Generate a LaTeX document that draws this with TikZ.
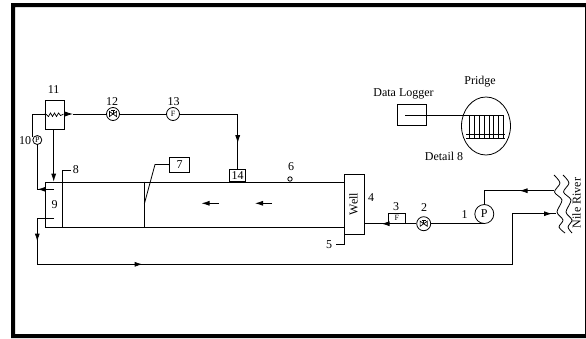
\documentclass[tikz,border=0pt]{standalone}
\usepackage{fontspec}
\setmainfont{Liberation Serif}
\usetikzlibrary{arrows.meta,decorations.markings,shapes.geometric}
\tikzset{
  pipe/.style={draw=black,line width=0.8pt},
  head/.tip={Latex[length=8pt,width=5pt]},
  mark at/.style={postaction={decorate,decoration={markings,mark=at position #1 with {\arrow{head}}}}},
  lbl/.style={inner sep=0pt,font=\fontsize{12}{13}\selectfont},
  tiny lbl/.style={inner sep=0pt,font=\fontsize{8}{9}\selectfont},
  boxed/.style={draw=black,line width=0.8pt,minimum width=#1,inner sep=0pt},
  ring/.style={draw=black,fill=white,circle,line width=0.8pt,inner sep=0pt,minimum size=#1},
}
\newcommand{\valvemark}[1]{%
  \draw[line width=0.7pt] ([shift={(-3.6pt,-2.6pt)}]#1.center) -- ([shift={(3.6pt,2.6pt)}]#1.center) -- ([shift={(3.6pt,-2.6pt)}]#1.center) -- ([shift={(-3.6pt,2.6pt)}]#1.center) -- cycle;
  \draw[line width=0.7pt] (#1.center) -- ([shift={(0pt,3.8pt)}]#1.center) ([shift={(-2pt,3.8pt)}]#1.center) -- ([shift={(2pt,3.8pt)}]#1.center);
}
\begin{document}
\begin{tikzpicture}[x=1pt,y=-1pt]
\useasboundingbox (0,0) rectangle (586,338);
% frame
\fill[black,even odd rule] (11,3) rectangle (586,338) (15,7) rectangle (585,334);

% tank
\node[draw=black,line width=0.8pt,minimum width=299.5pt,minimum height=45.3pt,inner sep=0pt,anchor=north west] (tank) at (45,181.7) {};
\node[draw=black,fill=white,line width=0.8pt,minimum width=20pt,minimum height=59.7pt,inner sep=0pt,anchor=north west] (well) at (344.3,174.3) {};
\node[lbl,rotate=90] (welltxt) at (353.5,204) {Well};
\coordinate (s8b) at (62,227);
\coordinate (s8t) at (62,170.3);
\coordinate (s8e) at (71,170.3);
\draw[pipe] (s8b) -- (s8t) -- (s8e);
\node[lbl] (n8) at (75.8,170) {8};
\node[lbl] (n9) at (54.5,204.5) {9};
\coordinate (s7t) at (144.3,181.7);
\coordinate (s7b) at (144.3,227);
\coordinate (s7m) at (144.3,204);
\coordinate (s7k) at (155,164.5);
\draw[pipe] (s7t) -- (s7b);
\node[boxed=19.7pt,minimum height=14.7pt,anchor=west] (b7) at (169.3,164.6) {};
\node[lbl] at (b7) {7};
\draw[pipe] (s7m) -- (s7k) -- (b7.west);

% flow arrows in tank
\coordinate (fa1) at (219,203.3); \coordinate (fa2) at (201.5,203.3);
\coordinate (fb1) at (272,203.3); \coordinate (fb2) at (255,203.3);
\draw[pipe,-head] (fa1) -- (fa2);
\draw[pipe,-head] (fb1) -- (fb2);

% item 14, 6
\node[boxed=16.4pt,minimum height=12pt,anchor=south] (b14) at (237.5,181.7) {};
\node[lbl] at (b14) {14};
\node[ring=4.4pt] (c6) at (290,179) {};
\node[lbl] (n6) at (291,167) {6};

% heat exchanger 11
\node[boxed=19pt,minimum height=29.3pt,anchor=north west] (hx) at (44.5,100) {};
\node[lbl] (n11) at (53.7,90) {11};
\draw[line width=0.7pt] plot[smooth] coordinates {(44.5,114) (46.5,114.5) (48.5,116.5) (50.5,113) (52.5,116.5) (54.5,113) (56.5,116.5) (58.5,113) (60.5,115.5) (63.5,114)};

% top line
\node[ring=13pt] (v12) at (113,114) {};
\node[lbl] (n12) at (112,102) {12};
\node[ring=13pt] (f13) at (173,114) {};
\node[tiny lbl] at (f13) {F};
\node[lbl] (n13) at (173.5,102) {13};
\coordinate (t14) at (237.7,114);
\coordinate (hxo) at (63.5,114);
\coordinate (hxa) at (73,114);
\draw[pipe,-head] (hxo) -- (hxa);
\draw[pipe] (hxa) -- (v12.west);
\draw[pipe] (v12.east) -- (f13.west);
\draw[pipe,mark at=87pt] (f13.east) -- (t14) -- (t14 |- b14.north);
\valvemark{v12}

% pipe 10
\node[ring=9pt] (p10) at (37.3,140) {};
\node[tiny lbl] at (p10) {P};
\node[lbl] (n10) at (25,140.3) {10};
\coordinate (j10) at (32.6,114);
\coordinate (j10b) at (32.6,136.6);
\draw[pipe,mark at=35pt] (j10b) -- (j10) -- (hx.west |- j10);
\coordinate (out9) at (54,189.3);
\coordinate (c10) at (37.3,189.3);
\draw[pipe,mark at=16.5pt] (out9) -- (c10) -- (p10.south);

% hx to tank
\coordinate (hxin) at (53.7,181.7);
\draw[pipe,-head] (hx.south -| hxin) -- (hxin);

% return
\coordinate (r0) at (54,218.3);
\coordinate (r1) at (37.3,218.3);
\coordinate (r2) at (37.3,264.3);
\coordinate (r3) at (512,264.3);
\coordinate (r4) at (512,213.7);
\coordinate (r5) at (556,213.7);
\draw[pipe,mark at=40pt,mark at=168pt,mark at=628pt] (r0) -- (r1) -- (r2) -- (r3) -- (r4) -- (r5);

% river feed
\node[ring=19pt] (pump) at (484.3,214) {};
\node[lbl] at (pump) {P};
\node[lbl] (n1) at (464.5,214.5) {1};
\coordinate (k1) at (484.7,190.7);
\coordinate (k2) at (553.5,190.7);
\draw[pipe,mark at=34pt] (k2) -- (k1) -- (k1 |- pump.north);

% feed line
\node[ring=14pt] (v2) at (423.7,223.7) {};
\node[lbl] (n2) at (424,208) {2};
\node[boxed=16.7pt,minimum height=10.4pt,anchor=south west] (f3) at (388,223.7) {};
\node[tiny lbl] at (f3) {F};
\node[lbl] (n3) at (396,207) {3};
\node[lbl] (n4) at (371,198) {4};
\coordinate (pb) at (484.3,223.7);
\draw[pipe] (pb) -- (v2.east);
\draw[pipe] (v2.west) -- (f3.south east);
\draw[pipe,mark at=24pt] (f3.south east) -- (well.east |- f3.south);
\valvemark{v2}

% item 5
\coordinate (w5) at (344.3,234);
\coordinate (w5b) at (344.3,244.3);
\coordinate (w5e) at (336,244.3);
\draw[pipe] (w5) -- (w5b) -- (w5e);
\node[lbl] (n5) at (329,244.5) {5};

% river
\draw[line width=0.8pt] plot[smooth] coordinates {(554,175) (560,183) (554.5,192) (562,200) (557,212) (563,220) (559,227) (565,233)};
\draw[line width=0.8pt] plot[smooth] coordinates {(563,175) (569,183) (563.5,192) (571,200) (566,212) (572,220) (568,227) (572,233)};
\node[lbl,rotate=90] (river) at (576.5,203) {Nile River};

% detail
\node[boxed=29pt,minimum height=20.7pt,anchor=north west] (log) at (396.7,104.3) {};
\node[lbl] (tlog) at (403.5,94) {Data Logger};
\node[lbl] (tpr) at (480,81.7) {Pridge};
\node[lbl] (tdet) at (444,156) {Detail 8};
\node[draw=black,line width=0.8pt,ellipse,minimum width=49pt,minimum height=58pt,inner sep=0pt] (el) at (486,126) {};
\coordinate (g0) at (405,115);
\coordinate (g1) at (503,115);
\draw[pipe] (g0) -- (g1);
\foreach \gx in {469.3,474.2,479,484,489,493.5,498.5,503.2}
  \draw[line width=0.9pt] (\gx,115) -- (\gx,139.3);
\coordinate (h1a) at (466,134); \coordinate (h1b) at (505,134);
\coordinate (h2a) at (466,138.3); \coordinate (h2b) at (505,138.3);
\draw[line width=0.9pt] (h1a) -- (h1b) (h2a) -- (h2b);
\end{tikzpicture}
\end{document}
